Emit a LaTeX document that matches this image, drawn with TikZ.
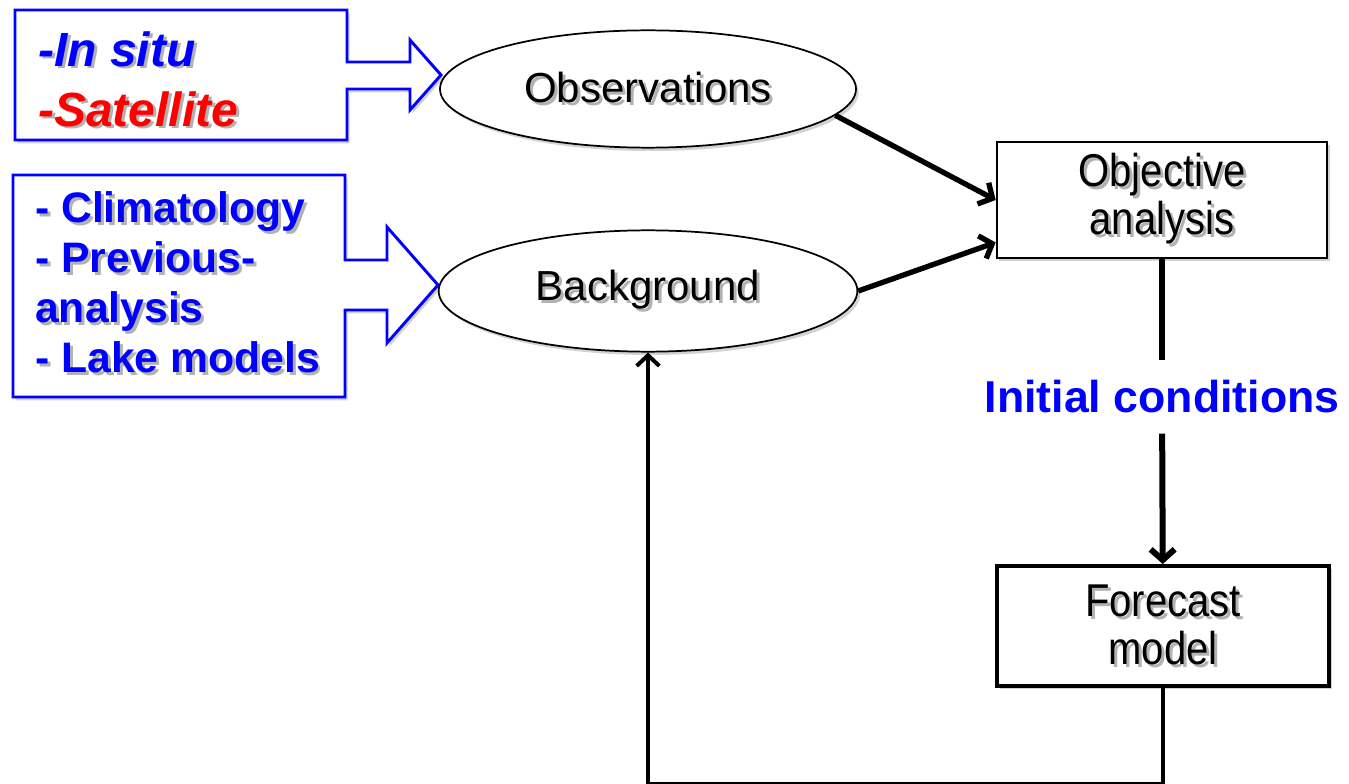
\documentclass[tikz,border=0pt]{standalone}
\usepackage{fontspec}
\setmainfont{Liberation Sans}
\newfontfamily\narrowfont[FakeStretch=0.87]{Liberation Sans}
\usetikzlibrary{arrows.meta,calc,shadows,shapes.geometric,positioning}

% grey copy behind a piece of text
\newcommand\shd[1]{\makebox[0pt][l]{\kern2.2pt\raisebox{-2.2pt}{\textcolor{black!30}{#1}}}#1}

\begin{document}
\begin{tikzpicture}[x=0.75pt,y=-0.75pt]
	\tikzstyle{shadowed}=[drop shadow={shadow xshift=2pt,shadow yshift=-2.5pt,fill=black!35,opacity=.5}]
	\tikzstyle{ell}=[ellipse, draw, fill=white, line width=1.3pt, shadowed, inner sep=0pt, font=\fontsize{31.5}{37}\selectfont]
	\tikzstyle{box}=[rectangle, draw, fill=white, line width=1.5pt, shadowed, align=center, font=\narrowfont\fontsize{34.5}{36}\selectfont]
	\tikzstyle{callout}=[draw=blue, fill=white, line width=2.2pt, shadowed]
	\tikzstyle{list}=[inner sep=0pt, anchor=north west, align=left, text=blue]
	\tikzstyle{arr}=[line width=4pt, -{Straight Barb[length=8pt,width=18pt]}]
	\tikzstyle{loop}=[line width=3pt, -{Straight Barb[length=8pt,width=17pt]}]

	\useasboundingbox (0,0) rectangle (1349,784);

	% input callouts
	\draw[callout] (15,10) -- (347,10) -- (347,62) -- (410,62) -- (410,40) -- (441,75)
		-- (410,110) -- (410,89) -- (347,89) -- (347,140) -- (15,140) -- cycle;
	\draw[callout] (13,175) -- (345,175) -- (345,260) -- (387,260) -- (387,227) -- (438,285)
		-- (387,343) -- (387,310) -- (345,310) -- (345,397) -- (13,397) -- cycle;

	\node[list, font=\bfseries\itshape\fontsize{36}{45}\selectfont] (src) at (38,31)
		{\shd{-In situ}\\ \textcolor{red}{\shd{-Satellite}}};
	\node[list, font=\bfseries\fontsize{32}{37.5}\selectfont] (prior) at (35,191)
		{\shd{- Climatology}\\ \shd{- Previous-}\\ \shd{analysis}\\ \shd{- Lake models}};

	% main nodes
	\node[ell, minimum width=312pt, minimum height=88pt] (obs) at (648,89) {\shd{Observations}};
	\node[ell, minimum width=314pt, minimum height=91pt] (bg) at (648,291) {\shd{Background}};
	\node[box, minimum width=248pt, minimum height=87pt] (oa) at (1162,200) {\shd{Objective}\\ \shd{analysis}};
	\node[inner xsep=2pt, inner ysep=15pt, text=blue, font=\bfseries\fontsize{33.5}{36}\selectfont]
		(ic) [below=76pt of oa] {Initial conditions};
	\node[box, line width=3pt, minimum width=249pt, minimum height=90pt] (fm) at (1163,626) {\shd{Forecast}\\ \shd{model}};

	\coordinate (oa in) at ($(oa.west)!0.72!(oa.south west)$);

	\foreach \from/\to in {obs.-8/oa.west,bg.east/oa in}
		\draw [arr] (\from) -- (\to);
	\draw [line width=4.5pt] (oa.south) -- (ic);
	\draw [arr, line width=4.5pt] (ic) -- (fm);
	\draw [loop] (fm.south) -- ++(0,96) -| (bg.south);
\end{tikzpicture}
\end{document}
